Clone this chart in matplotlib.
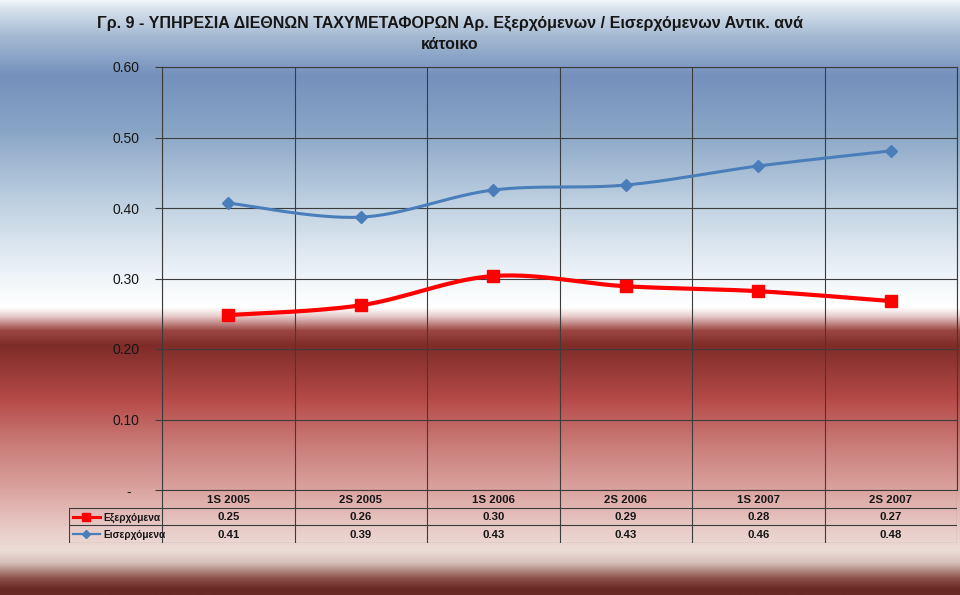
import numpy as np
import matplotlib
matplotlib.use("Agg")
import matplotlib.pyplot as plt
from matplotlib import font_manager
from matplotlib.colors import to_rgb

# ---------------- data ----------------
categories = ['1S 2005', '2S 2005', '1S 2006', '2S 2006', '1S 2007', '2S 2007']
outgoing = [0.248, 0.262, 0.3035, 0.289, 0.282, 0.268]
incoming = [0.407, 0.387, 0.4255, 0.4326, 0.4596, 0.481]
series_names = ['Εξερχόμενα', 'Εισερχόμενα']
yticks = [0.0, 0.1, 0.2, 0.3, 0.4, 0.5, 0.6]
ytick_labels = ['-  ', '0.10', '0.20', '0.30', '0.40', '0.50', '0.60']
title = ('Γρ. 9 - ΥΠΗΡΕΣΙΑ ΔΙΕΘΝΩΝ ΤΑΧΥΜΕΤΑΦΟΡΩΝ Αρ. Εξερχόμενων / Εισερχόμενων Αντικ. ανά\n'
         'κάτοικο')

# ---------------- style ----------------
names = {f.name for f in font_manager.fontManager.ttflist}
base_font = 'Liberation Sans' if 'Liberation Sans' in names else 'DejaVu Sans'
plt.rcParams['font.family'] = [base_font, 'DejaVu Sans']

RED = '#ff0000'
BLUE = '#4a7ebb'
GRID = '#3c3c3c'
TXT = '#161616'
W, H = 960, 595

fig = plt.figure(figsize=(W / 100, H / 100), dpi=100)

# background gradient (whole figure)
stops = [(0, '#f2f6fa'), (8, '#d8e3ee'), (35, '#a6bad3'), (75, '#7490bc'),
         (130, '#89a5c6'), (200, '#bdcfe0'), (260, '#e5edf4'), (295, '#fafcfd'),
         (307, '#ffffff'), (315, '#ead2d2'), (330, '#9c4642'), (345, '#7e2c28'),
         (400, '#b64b49'), (440, '#c87874'), (490, '#dba4a0'), (530, '#e9cdc9'),
         (550, '#ecdcd6'), (562, '#d6c1ba'), (578, '#8c5149'), (588, '#6a2a24'),
         (595, '#6a2a24')]
ys = np.arange(H)
sy = [s[0] for s in stops]
cols = np.array([to_rgb(s[1]) for s in stops])
grad = np.stack([np.interp(ys, sy, cols[:, k]) for k in range(3)], axis=-1)[:, None, :]
bg = fig.add_axes([0, 0, 1, 1], zorder=-10)
bg.imshow(grad, aspect='auto', extent=[0, 1, 0, 1], interpolation='bilinear')
bg.axis('off')

# main plot area
L, R, T, B = 162, 957, 67, 490
ax = fig.add_axes([L / W, 1 - B / H, (R - L) / W, (B - T) / H])
ax.patch.set_alpha(0)
n = len(categories)
ax.set_xlim(0, n)
ax.set_ylim(0, 0.6)
ax.set_xticks(np.arange(n + 1))
ax.set_xticklabels([])
ax.tick_params(axis='x', length=0)
ax.set_yticks(yticks)
ax.set_yticklabels(ytick_labels, fontsize=10, color=TXT)
ax.tick_params(axis='y', length=5, width=0.8, color=GRID, pad=11)
ax.grid(True, color=GRID, lw=0.8)
ax.set_axisbelow(True)
for sp in ax.spines.values():
    sp.set_color(GRID)
    sp.set_linewidth(0.8)


def smooth(x, y, steps=30):
    x = np.asarray(x, float)
    y = np.asarray(y, float)
    P = np.column_stack([x, y])
    Pe = np.vstack([P[0], P, P[-1]])
    out = []
    for i in range(len(P) - 1):
        p0, p1, p2, p3 = Pe[i], Pe[i + 1], Pe[i + 2], Pe[i + 3]
        c1 = p1 + (p2 - p0) / 6
        c2 = p2 - (p3 - p1) / 6
        t = np.linspace(0, 1, steps)[:, None]
        seg = ((1 - t) ** 3) * p1 + 3 * ((1 - t) ** 2) * t * c1 + 3 * (1 - t) * t ** 2 * c2 + t ** 3 * p2
        out.append(seg if i == 0 else seg[1:])
    out = np.vstack(out)
    return out[:, 0], out[:, 1]


xc = np.arange(n) + 0.5
sx, sy_ = smooth(xc, incoming)
ax.plot(sx, sy_, color=BLUE, lw=2.2, zorder=3)
ax.plot(xc, incoming, ls='none', marker='D', ms=6, color=BLUE, zorder=4)
sx, sy_ = smooth(xc, outgoing)
ax.plot(sx, sy_, color=RED, lw=3.0, zorder=3)
ax.plot(xc, outgoing, ls='none', marker='s', ms=8, color=RED, zorder=4)

# title
fig.text(450 / W, 1 - 34 / H, title, ha='center', va='center', fontsize=11.5,
         fontweight='bold', color=TXT, linespacing=1.5)

# data table
TL, TB = 69, 543
lab_w = (L - TL) / ((R - L) / n)
tax = fig.add_axes([TL / W, 1 - TB / H, (R - TL) / W, (TB - B) / H])
tax.patch.set_alpha(0)
tax.axis('off')
tax.set_xlim(-lab_w, n)
tax.set_ylim(3, 0)
lk = dict(color=GRID, lw=0.8)
for r in (1, 2, 3):
    tax.plot([-lab_w, n], [r, r], **lk)
for c in range(n + 1):
    tax.plot([c, c], [0, 3], **lk)
tax.plot([-lab_w, -lab_w], [1, 3], **lk)

tfs = 8.2
for i, cat in enumerate(categories):
    tax.text(i + 0.5, 0.55, cat, ha='center', va='center', fontsize=tfs, fontweight='bold', color=TXT)
    tax.text(i + 0.5, 1.55, f'{outgoing[i]:.2f}', ha='center', va='center', fontsize=tfs, fontweight='bold', color=TXT)
    tax.text(i + 0.5, 2.55, f'{incoming[i]:.2f}', ha='center', va='center', fontsize=tfs, fontweight='bold', color=TXT)

u = (R - L) / n  # px per category
rows = [(1.5, RED, 's', 6, 2.2, series_names[0]), (2.5, BLUE, 'D', 4.5, 1.6, series_names[1])]
for yy, col, mk, ms, lw, name in rows:
    x0 = -lab_w + 4 / u
    x1 = -lab_w + 31 / u
    tax.plot([x0, x1], [yy, yy], color=col, lw=lw)
    tax.plot([(x0 + x1) / 2], [yy], marker=mk, ms=ms, color=col, ls='none')
    tax.text(-lab_w + 34 / u, yy + 0.05, name, ha='left', va='center', fontsize=7.3,
             fontweight='bold', color=TXT)

fig.savefig('out.png', dpi=100)
